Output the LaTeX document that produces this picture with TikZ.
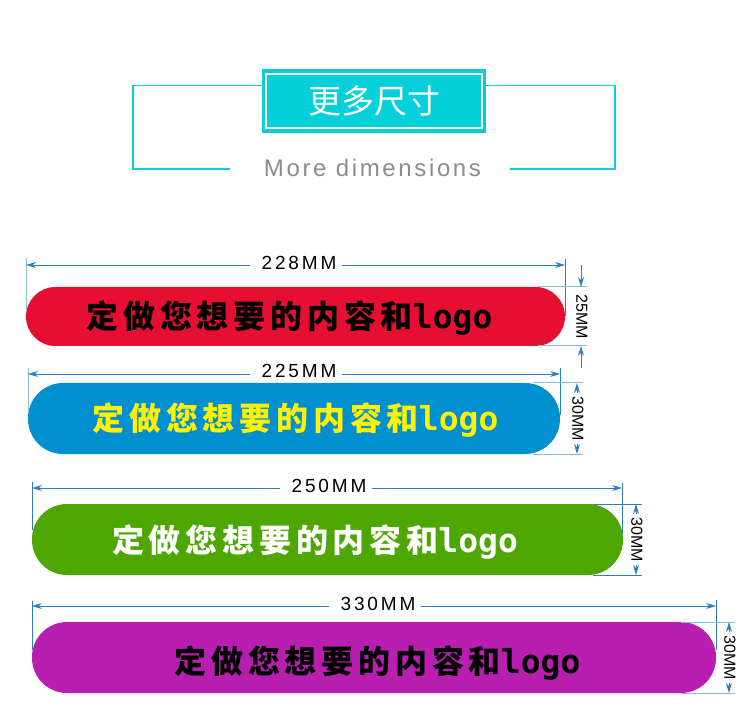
\documentclass[tikz,border=0pt]{standalone}
\usepackage{fontspec}
\setmainfont{Liberation Sans}
\newfontfamily\cjk{Noto Sans CJK SC}
\newfontfamily\cjkwide[LetterSpace=15]{Noto Sans CJK SC}
\newfontfamily\logofont{DejaVu Sans Mono}
\newfontfamily\dimfont[LetterSpace=15]{Liberation Sans}
\newfontfamily\subfont[LetterSpace=11]{Liberation Sans}
\usepackage{xcolor}
\usetikzlibrary{arrows.meta,positioning}
\definecolor{teal1}{HTML}{04D0DA}
\definecolor{dimblue}{HTML}{2B7FBE}
\definecolor{softblue}{HTML}{8ABCDD}
\definecolor{pillred}{HTML}{E60F32}
\definecolor{pillblue}{HTML}{0090CF}
\definecolor{pillgreen}{HTML}{4DA700}
\definecolor{pillpurple}{HTML}{B81EB0}
\newcommand{\pillwords}{定做您想要的内容和\fontsize{33}{33}\logofont\bfseries logo}
\tikzstyle{pill}=[
  inner sep=0pt,outer sep=0pt
]
\tikzstyle{pilltext}=[
  inner sep=0pt,font=\fontsize{32}{32}\cjkwide\bfseries
]
\tikzstyle{dimlabel}=[
  inner sep=0pt,font=\fontsize{19}{19}\dimfont
]
\tikzstyle{sidelabel}=[
  inner sep=0pt,rotate=-90,font=\fontsize{16}{16}\selectfont
]
\tikzstyle{tick}=[
  draw=dimblue,line width=0.9pt
]
\tikzstyle{softtick}=[
  draw=softblue,line width=1pt
]
\tikzstyle{dimline}=[
  draw=dimblue,line width=0.9pt,-{Stealth[length=10pt,width=6pt]}
]
\tikzstyle{frame}=[
  draw=teal1,line width=1.8pt
]
\begin{document}
\begin{tikzpicture}[x=1pt,y=-1pt]
  \useasboundingbox (0,0) rectangle (750,711);
  % heading
  \coordinate (fl1) at (262,85.5);
  \coordinate (fl2) at (133,85.5);
  \coordinate (fl3) at (133,169);
  \coordinate (fl4) at (230,169);
  \coordinate (fr1) at (486,85.5);
  \coordinate (fr2) at (615,85.5);
  \coordinate (fr3) at (615,169);
  \coordinate (fr4) at (510,169);
  \draw [frame] (fl1) -- (fl2) -- (fl3) -- (fl4);
  \draw [frame] (fr1) -- (fr2) -- (fr3) -- (fr4);
  \node (head) at (374,101) [fill=teal1,minimum width=224pt,minimum height=64pt,inner sep=0pt] {};
  \node (headin) at (head) [draw=white,line width=1.2pt,minimum width=216pt,minimum height=54pt,inner sep=0pt,text=white,font=\fontsize{33}{33}\cjk] {更多尺寸};
  \node (sub) at (372.5,168) [inner sep=0pt,text=black!45,font=\fontsize{24}{24}\subfont] {More dimensions};
  % red
  \node (red) at (295.5,316.5) [pill,fill=pillred,rounded corners=29.5pt,minimum width=539pt,minimum height=59pt] {};
  \node (redtxt) at (289.5,318) [pilltext,text=black] {\pillwords};
  \node (w228) at (299,263) [dimlabel] {228MM};
  \coordinate (ra) at (26,258); \coordinate (rb) at (26,310); \coordinate (rc) at (26,265);
  \coordinate (rd) at (565,259); \coordinate (re) at (565,316); \coordinate (rf) at (565,265);
  \coordinate (rg) at (538,287); \coordinate (rh) at (587,287);
  \coordinate (ri) at (538,346); \coordinate (rj) at (587,346);
  \coordinate (rk) at (581,265); \coordinate (rl) at (581,287);
  \coordinate (rm) at (581,368); \coordinate (rn) at (581,346);
  \node (h25) at (582,317) [sidelabel] {25MM};
  \draw [softtick] (ra) -- (rb);
  \draw [tick] (rd) -- (re);
  \draw [softtick] (rg) -- (rh);
  \draw [softtick] (ri) -- (rj);
  \draw [dimline] (w228.west |- rc) ++(-11,0) -- (rc);
  \draw [dimline] (w228.east |- rf) ++(5,0) -- (rf);
  \draw [dimline] (rk) -- (rl);
  \draw [dimline] (rm) -- (rn);
  % blue
  \node (blue) at (294,418.5) [pill,fill=pillblue,rounded corners=35pt,minimum width=532pt,minimum height=71pt] {};
  \node (bluetxt) at (295.5,420) [pilltext,text=yellow] {\pillwords};
  \node (w225) at (299,371) [dimlabel] {225MM};
  \coordinate (ba) at (28,368); \coordinate (bb) at (28,412); \coordinate (bc) at (28,374);
  \coordinate (bd) at (560,368); \coordinate (be) at (560,415); \coordinate (bf) at (560,374);
  \coordinate (bg) at (533,383); \coordinate (bh) at (583,383);
  \coordinate (bi) at (533,454); \coordinate (bj) at (583,454);
  \coordinate (bk) at (577,393); \coordinate (bl) at (577,383);
  \coordinate (bm) at (577,444); \coordinate (bn) at (577,454);
  \node (h30b) at (578,419) [sidelabel] {30MM};
  \draw [softtick] (ba) -- (bb);
  \draw [tick] (bd) -- (be);
  \draw [softtick] (bg) -- (bh);
  \draw [softtick] (bi) -- (bj);
  \draw [dimline] (w225.west |- bc) ++(-11,0) -- (bc);
  \draw [dimline] (w225.east |- bf) ++(5,0) -- (bf);
  \draw [dimline] (bk) -- (bl);
  \draw [dimline] (bm) -- (bn);
  % green
  \node (green) at (327.5,539.5) [pill,fill=pillgreen,rounded corners=35pt,minimum width=591pt,minimum height=71pt] {};
  \node (greentxt) at (315,542.5) [pilltext,text=white] {\pillwords};
  \node (w250) at (329,486) [dimlabel] {250MM};
  \coordinate (ga) at (32,482); \coordinate (gb) at (32,530); \coordinate (gc) at (32,488);
  \coordinate (gd) at (622,483); \coordinate (ge) at (622,534); \coordinate (gf) at (622,488);
  \coordinate (gg) at (593,504); \coordinate (gh) at (642,504);
  \coordinate (gi) at (593,575); \coordinate (gj) at (642,575);
  \coordinate (gk) at (636,514); \coordinate (gl) at (636,504);
  \coordinate (gm) at (636,565); \coordinate (gn) at (636,575);
  \node (h30g) at (637,540) [sidelabel] {30MM};
  \draw [tick] (ga) -- (gb);
  \draw [tick] (gd) -- (ge);
  \draw [tick] (gg) -- (gh);
  \draw [tick] (gi) -- (gj);
  \draw [dimline] (w250.west |- gc) ++(-11,0) -- (gc);
  \draw [dimline] (w250.east |- gf) ++(5,0) -- (gf);
  \draw [dimline] (gk) -- (gl);
  \draw [dimline] (gm) -- (gn);
  % purple
  \node (purple) at (374,657.5) [pill,fill=pillpurple,rounded corners=35pt,minimum width=684pt,minimum height=71pt] {};
  \node (purpletxt) at (377.5,663.5) [pilltext,text=black] {\pillwords};
  \node (w330) at (378,604) [dimlabel] {330MM};
  \coordinate (pa) at (32,601); \coordinate (pb) at (32,650); \coordinate (pc) at (32,606);
  \coordinate (pd) at (716,600); \coordinate (pe) at (716,650); \coordinate (pf) at (716,606);
  \coordinate (pg) at (681,622); \coordinate (ph) at (735,622);
  \coordinate (pi) at (681,693); \coordinate (pj) at (735,693);
  \coordinate (pk) at (729,632); \coordinate (pl) at (729,622);
  \coordinate (pm) at (729,683); \coordinate (pn) at (729,693);
  \node (h30p) at (730,658) [sidelabel] {30MM};
  \draw [tick] (pa) -- (pb);
  \draw [tick] (pd) -- (pe);
  \draw [softtick] (pg) -- (ph);
  \draw [softtick] (pi) -- (pj);
  \draw [dimline] (w330.west |- pc) ++(-11,0) -- (pc);
  \draw [dimline] (w330.east |- pf) ++(5,0) -- (pf);
  \draw [dimline] (pk) -- (pl);
  \draw [dimline] (pm) -- (pn);
\end{tikzpicture}
\end{document}
